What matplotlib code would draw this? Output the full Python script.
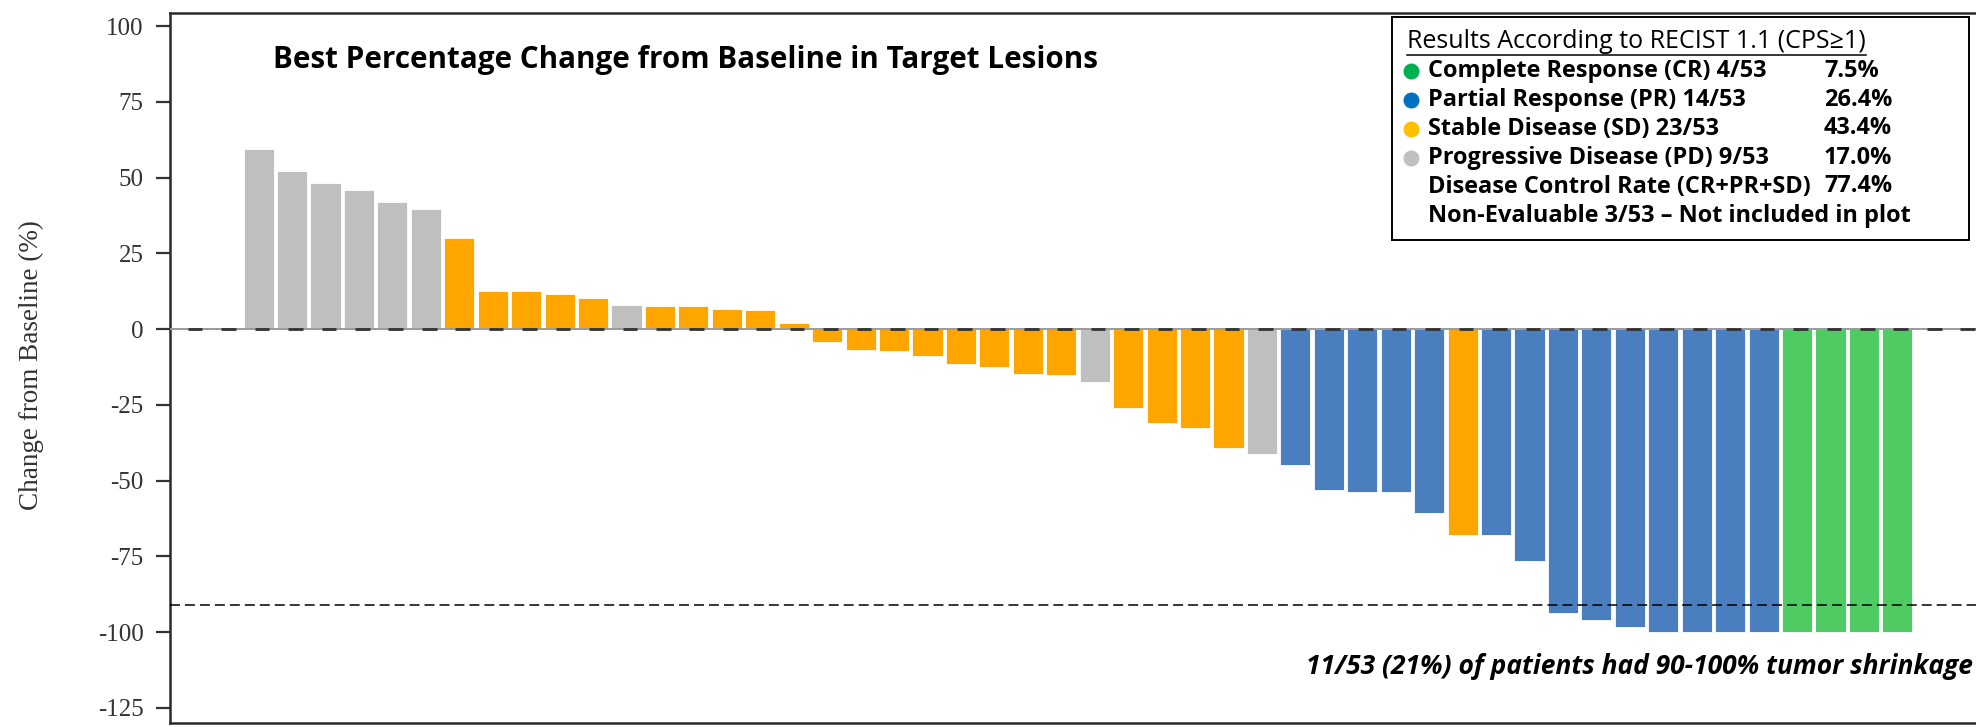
import numpy as np
import matplotlib.pyplot as plt
from matplotlib.patches import Rectangle
from matplotlib.lines import Line2D

# best % change from baseline per patient, sorted
values = [59.3, 52.2, 48.1, 45.8, 41.8, 39.6, 30.2, 12.6, 12.4, 11.5, 10.2, 8.0,
          7.7, 7.6, 6.5, 6.3, 2.0, -4.4, -6.8, -7.4, -9.0, -11.5, -12.4, -14.8,
          -15.3, -17.5, -26.0, -31.0, -32.5, -39.1, -41.1, -44.7, -53.1, -53.7,
          -53.7, -60.8, -67.9, -68.0, -76.5, -93.8, -95.9, -98.4, -100, -100,
          -100, -100, -100, -100, -100, -100]
response = (['PD'] * 6 + ['SD'] * 5 + ['PD'] + ['SD'] * 13 + ['PD'] + ['SD'] * 4
            + ['PD'] + ['PR'] * 5 + ['SD'] + ['PR'] * 9 + ['CR'] * 4)

bar_colors = {'CR': '#4fcb64', 'PR': '#4a7ebf', 'SD': '#ffa500', 'PD': '#bfbfbf'}
dot_colors = {'CR': '#00b050', 'PR': '#0070c0', 'SD': '#ffc000', 'PD': '#c0c0c0'}

legend_rows = [('CR', 'Complete Response (CR) 4/53', '7.5%'),
               ('PR', 'Partial Response (PR) 14/53', '26.4%'),
               ('SD', 'Stable Disease (SD) 23/53', '43.4%'),
               ('PD', 'Progressive Disease (PD) 9/53', '17.0%'),
               (None, 'Disease Control Rate (CR+PR+SD)', '77.4%'),
               (None, 'Non-Evaluable 3/53 \u2013 Not included in plot', '')]

shrink_cut = -91
yticks = [100, 75, 50, 25, 0, -25, -50, -75, -100, -125]

plt.rcParams['axes.unicode_minus'] = False
sans = ['Open Sans', 'DejaVu Sans']
serif = ['Liberation Serif', 'DejaVu Serif']

W, H = 1976, 727
fig = plt.figure(figsize=(W / 100, H / 100), dpi=100)
fx = lambda px: px / W
fy = lambda py: 1 - py / H

ax = fig.add_axes([fx(170), fy(723), 1 - fx(170), (723 - 12.7) / H])

x = np.arange(len(values))
ax.bar(x, values, width=0.9, color=[bar_colors[r] for r in response],
       edgecolor='white', linewidth=0.6, zorder=2)

ax.set_xlim(-2.65, 51.35)
ax.set_ylim(-130, 104.4)

# baseline: grey rule with short dark dashes
ax.axhline(0, color='#9a9a9a', lw=1.4, zorder=3)
marks = np.arange(-2, 52) + 0.1
ax.hlines(np.zeros(len(marks)), marks - 0.22, marks + 0.22, color='#333333',
          lw=2.0, zorder=4)

ax.axhline(shrink_cut, color='black', lw=1.1, dashes=(6.5, 3.3), zorder=3)

ax.set_xticks([])
ax.set_yticks(yticks)
ax.set_yticklabels([str(t) for t in yticks], family=serif, fontsize=18,
                   color='#333333')
ax.tick_params(axis='y', length=10, width=1.6, pad=9, color='#333333')
for side in ['left', 'top', 'bottom']:
    ax.spines[side].set_linewidth(1.8)
    ax.spines[side].set_color('#2a2a2a')
ax.spines['right'].set_visible(False)

fig.text(fx(31), fy(365), 'Change from Baseline (%)', rotation=90,
         ha='center', va='center', family=serif, fontsize=19.5, color='#333333')

ax.text(0.43, 88.8, 'Best Percentage Change from Baseline in Target Lesions',
        family=sans, fontsize=21.3, fontweight='bold', va='center', ha='left')

ax.text(51.25, shrink_cut - 20.5,
        '11/53 (21%) of patients had 90-100% tumor shrinkage',
        family=sans, fontsize=19, fontweight='bold', style='italic',
        ha='right', va='center')

# results box
fig.add_artist(Rectangle((fx(1392), fy(240)), fx(1969) - fx(1392),
                         (240 - 17) / H, transform=fig.transFigure,
                         facecolor='white', edgecolor='black', lw=1.4, zorder=5))

head = fig.text(fx(1407), fy(41.6), 'Results According to RECIST 1.1 (CPS\u22651)',
                family=sans, fontsize=18, fontweight='normal', va='center',
                ha='left', zorder=6)
fig.canvas.draw()
bb = head.get_window_extent()
fig.add_artist(Line2D([bb.x0 / W, bb.x1 / W], [fy(55), fy(55)],
                      transform=fig.transFigure, color='black', lw=1.1, zorder=6))

row_y = [70.6, 99.5, 128.5, 157.5, 186.5, 215.5]
for (key, label, pct), py in zip(legend_rows, row_y):
    if key is not None:
        fig.add_artist(Line2D([fx(1411)], [fy(py)], marker='o', markersize=10.5,
                              color=dot_colors[key], transform=fig.transFigure,
                              zorder=6))
    fig.text(fx(1428), fy(py), label, family=sans, fontsize=16.9,
             fontweight='bold', va='center', ha='left', zorder=6)
    if pct:
        fig.text(fx(1824), fy(py), pct, family=sans, fontsize=16.9,
                 fontweight='bold', va='center', ha='left', zorder=6)

fig.savefig('out.png', dpi=100, facecolor='white')
